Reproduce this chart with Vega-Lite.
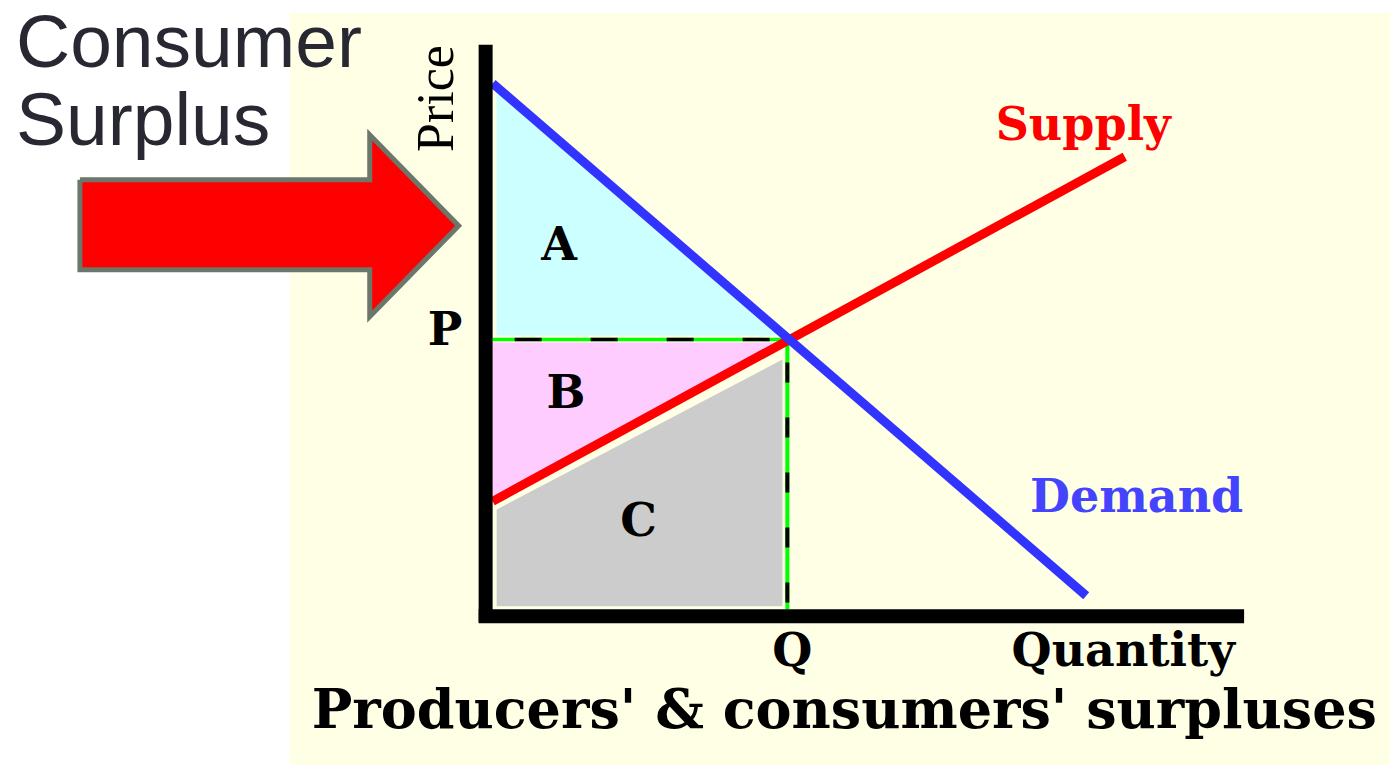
{
  "$schema": "https://vega.github.io/schema/vega-lite/v6.json",
  "width": 1391,
  "height": 766,
  "autosize": {"type": "fit", "contains": "padding"},
  "padding": 0,
  "background": "#FFFFFF",
  "config": {"view": {"stroke": null}},
  "datasets": {
    "bg": [{"q": -6.835, "p": 22.11, "q2": 30.24, "p2": -5.78}],
    "arrow": [
      {"q": -13.906, "p": 15.926, "o": 1},
      {"q": -4.141, "p": 15.926, "o": 2},
      {"q": -4.141, "p": 17.593, "o": 3},
      {"q": -1.145, "p": 14.222, "o": 4},
      {"q": -4.141, "p": 10.852, "o": 5},
      {"q": -4.141, "p": 12.593, "o": 6},
      {"q": -13.906, "p": 12.593, "o": 7},
      {"q": -13.906, "p": 15.926, "o": 8}
    ],
    "areaA": [{"q": 0.13, "p": 19.38, "p2": 10.15}, {"q": 9.84, "p": 10.15, "p2": 10.15}],
    "areaB": [{"q": 0.0, "p": 9.89, "p2": 4.0}, {"q": 9.82, "p": 9.89, "p2": 9.89}],
    "areaC": [{"q": 0.135, "p": 3.7, "p2": 0.11}, {"q": 9.764, "p": 9.26, "p2": 0.11}],
    "pline": [{"q": 0.0, "p": 10.0, "q2": 10.0}],
    "qline": [{"q": 9.93, "p": 10.0, "p2": 0.0}],
    "supply": [{"q": 0.0, "p": 4.0}, {"q": 21.3, "p": 16.78}],
    "demand": [{"q": 0.0, "p": 19.5}, {"q": 20.0, "p": 0.5}],
    "axes": [
      {"q": -0.236, "p": 20.93, "q2": -0.236, "p2": -0.48},
      {"q": -0.47, "p": -0.26, "q2": 25.32, "p2": -0.26}
    ],
    "boldLabels": [
      {"q": -1.6, "p": 9.81, "text": "P"},
      {"q": 2.24, "p": 12.96, "text": "A"},
      {"q": 2.47, "p": 7.48, "text": "B"},
      {"q": 4.92, "p": 2.7, "text": "C"}
    ],
    "axisLabels": [
      {"q": 10.1, "p": -2.11, "text": "Q"},
      {"q": 21.25, "p": -2.11, "text": "Quantity"}
    ],
    "price": [{"q": -1.35, "p": 18.94, "text": "Price"}],
    "supplyLabel": [{"q": 19.9, "p": 17.41, "text": "Supply"}],
    "demandLabel": [{"q": 21.7, "p": 3.59, "text": "Demand"}],
    "title": [{"q": 11.85, "p": -4.41, "text": "Producers' & consumers' surpluses"}],
    "cs": [
      {"q": -16.06, "p": 20.11, "text": "Consumer"},
      {"q": -16.06, "p": 17.22, "text": "Surplus"}
    ]
  },
  "encoding": {
    "x": {"field": "q", "type": "quantitative", "scale": {"domain": [-16.599, 30.236], "nice": false, "zero": false}, "axis": null},
    "y": {"field": "p", "type": "quantitative", "scale": {"domain": [-5.778, 22.593], "nice": false, "zero": false}, "axis": null}
  },
  "layer": [
    {
      "data": {"name": "bg"},
      "mark": {"type": "rect", "fill": "#FFFFE6"},
      "encoding": {"x2": {"field": "q2"}, "y2": {"field": "p2"}}
    },
    {
      "data": {"name": "arrow"},
      "mark": {"type": "line", "fill": "#FF0000", "stroke": "#6B776B", "strokeWidth": 5, "strokeJoin": "miter"},
      "encoding": {"order": {"field": "o", "type": "quantitative"}}
    },
    {
      "data": {"name": "areaA"},
      "mark": {"type": "area", "color": "#CCFFFF"},
      "encoding": {"y2": {"field": "p2"}}
    },
    {
      "data": {"name": "areaB"},
      "mark": {"type": "area", "color": "#FFCCFF"},
      "encoding": {"y2": {"field": "p2"}}
    },
    {
      "data": {"name": "areaC"},
      "mark": {"type": "area", "color": "#CCCCCC"},
      "encoding": {"y2": {"field": "p2"}}
    },
    {
      "data": {"name": "pline"},
      "mark": {"type": "rule", "color": "#00FF00", "strokeWidth": 3.5},
      "encoding": {"x2": {"field": "q2"}}
    },
    {
      "data": {"name": "pline"},
      "mark": {"type": "rule", "color": "#000000", "strokeWidth": 3.5, "strokeDash": [27, 49], "strokeDashOffset": 54},
      "encoding": {"x2": {"field": "q2"}}
    },
    {
      "data": {"name": "qline"},
      "mark": {"type": "rule", "color": "#00FF00", "strokeWidth": 4},
      "encoding": {"y2": {"field": "p2"}}
    },
    {
      "data": {"name": "qline"},
      "mark": {"type": "rule", "color": "#000000", "strokeWidth": 4, "strokeDash": [20, 35], "strokeDashOffset": 32},
      "encoding": {"y2": {"field": "p2"}}
    },
    {
      "data": {"name": "supply"},
      "mark": {"type": "line", "color": "#FF0000", "strokeWidth": 9, "strokeCap": "butt"},
      "encoding": {}
    },
    {
      "data": {"name": "demand"},
      "mark": {"type": "line", "color": "#3333FF", "strokeWidth": 9, "strokeCap": "butt"},
      "encoding": {}
    },
    {
      "data": {"name": "axes"},
      "mark": {"type": "rule", "color": "#000000", "strokeWidth": 14, "strokeCap": "butt"},
      "encoding": {"x2": {"field": "q2"}, "y2": {"field": "p2"}}
    },
    {
      "data": {"name": "boldLabels"},
      "mark": {"type": "text", "font": "DejaVu Serif", "fontWeight": "bold", "fontSize": 46, "align": "center", "baseline": "alphabetic", "color": "#000000"},
      "encoding": {"text": {"field": "text"}}
    },
    {
      "data": {"name": "axisLabels"},
      "mark": {"type": "text", "font": "DejaVu Serif", "fontWeight": "bold", "fontSize": 46, "align": "center", "baseline": "alphabetic", "color": "#000000"},
      "encoding": {"text": {"field": "text"}}
    },
    {
      "data": {"name": "price"},
      "mark": {"type": "text", "font": "Liberation Serif", "fontWeight": "normal", "fontSize": 52, "angle": 270, "align": "center", "baseline": "alphabetic", "color": "#000000"},
      "encoding": {"text": {"field": "text"}}
    },
    {
      "data": {"name": "supplyLabel"},
      "mark": {"type": "text", "font": "DejaVu Serif", "fontWeight": "bold", "fontSize": 46, "align": "center", "baseline": "alphabetic", "color": "#FF0000"},
      "encoding": {"text": {"field": "text"}}
    },
    {
      "data": {"name": "demandLabel"},
      "mark": {"type": "text", "font": "DejaVu Serif", "fontWeight": "bold", "fontSize": 46, "align": "center", "baseline": "alphabetic", "color": "#4444FF"},
      "encoding": {"text": {"field": "text"}}
    },
    {
      "data": {"name": "title"},
      "mark": {"type": "text", "font": "DejaVu Serif", "fontWeight": "bold", "fontSize": 54, "align": "center", "baseline": "alphabetic", "color": "#000000"},
      "encoding": {"text": {"field": "text"}}
    },
    {
      "data": {"name": "cs"},
      "mark": {"type": "text", "font": "Liberation Sans", "fontWeight": "normal", "fontSize": 75, "align": "left", "baseline": "alphabetic", "color": "#282833"},
      "encoding": {"text": {"field": "text"}}
    }
  ]
}
